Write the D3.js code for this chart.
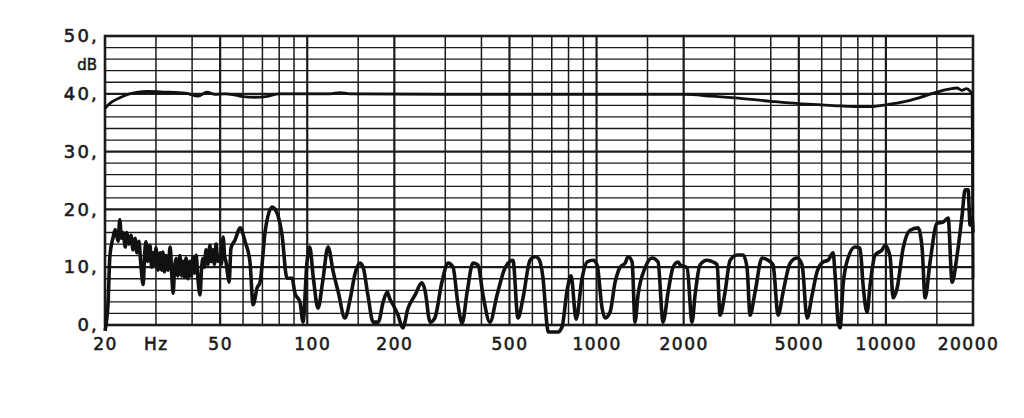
<!DOCTYPE html>
<html><head><meta charset="utf-8">
<script src="https://cdn.jsdelivr.net/npm/d3@7"></script>
<style>body{margin:0;background:#fff}svg{display:block}</style>
</head><body><svg id="c" width="1024" height="418"></svg>
<script>
// ---- data ----
const xTicks = [20, 30, 50, 100, 200, 500, 1000, 2000, 5000, 10000, 20000];
const xTickLabels = ["20", "Hz", "50", "100", "200", "500", "1000", "2000", "5000", "10000", "20000"];
const xGrid = [20,30,40,50,60,70,80,90,100,150,200,300,400,500,600,700,800,900,1000,1500,2000,3000,4000,5000,6000,7000,8000,9000,10000,15000,20000];
const xMajor = [50,100,200,500,1000,2000,5000,10000];
const yTicks = [0, 10, 20, 30, 40, 50];
const yUnit = "dB";

const upperFreq = [20, 21, 22.5, 24, 26, 28, 32, 38, 42, 45, 48, 52, 56, 60, 66, 72, 80, 100, 120, 130, 140, 300, 1000, 2000, 2500, 3000, 4000, 5000, 6000, 7000, 8000, 9000, 10000, 11500, 13000, 15000, 16500, 17600, 18300, 19000, 19500, 19860, 20000];
const upperDb   = [37.5, 38.5, 39.3, 39.9, 40.3, 40.4, 40.3, 40.1, 39.6, 40.3, 39.9, 40.0, 39.8, 39.5, 39.4, 39.5, 40.0, 40.0, 40.0, 40.2, 40.0, 39.9, 39.9, 39.9, 39.6, 39.3, 38.7, 38.3, 38.1, 37.9, 37.8, 37.8, 38.1, 38.6, 39.3, 40.3, 40.8, 41.0, 40.6, 40.9, 40.5, 39.8, 8];

const lowerFreq = [20, 20.5, 20.8, 21.3, 21.7, 22.2, 22.5, 22.8, 23.1, 23.5, 23.8, 24.2, 24.6, 25.0, 25.4, 25.8, 26.2, 26.6, 27.1, 27.4, 27.7, 28.1, 28.6, 29.0, 29.3, 29.7, 30.0, 30.5, 31.0, 31.4, 31.7, 32.1, 32.5, 33.0, 33.6, 34.0, 34.4, 34.8, 35.2, 35.7, 36.3, 36.8, 37.2, 37.7, 38.1, 38.7, 39.3, 39.8, 40.3, 40.8, 41.3, 41.9, 42.6, 43.1, 43.6, 44.1, 44.7, 45.4, 46.1, 46.6, 47.2, 47.8, 48.4, 49.1, 49.9, 50.5, 51.2, 51.8, 52.4, 53.0, 53.7, 54.5, 56.3, 58.6, 61.0, 63.4, 65.0, 67.1, 68.7, 71.5, 75.6, 78.6, 81.8, 85.1, 88.6, 90.7, 94.4, 96.7, 99.8, 102, 105, 109, 113, 118, 123, 128, 135, 141, 146, 152, 156, 162, 169, 176, 183, 189, 193, 198, 206, 214, 223, 236, 249, 255, 266, 276, 292, 307, 319, 332, 343, 357, 374, 389, 405, 428, 453, 483, 514, 535, 557, 589, 613, 630, 653, 674, 680, 736, 760, 791, 816, 850, 891, 927, 973, 1004, 1045, 1070, 1113, 1159, 1206, 1255, 1285, 1327, 1358, 1391, 1471, 1556, 1631, 1697, 1767, 1838, 1913, 1944, 2055, 2138, 2190, 2278, 2410, 2528, 2610, 2672, 2780, 2894, 3060, 3210, 3312, 3392, 3530, 3732, 3916, 4074, 4240, 4412, 4664, 4932, 5132, 5340, 5558, 5782, 6064, 6310, 6568, 6674, 6836, 6946, 7112, 7400, 7824, 8142, 8340, 8608, 8816, 9174, 9702, 9936, 10340, 10590, 10934, 11470, 12124, 12918, 13338, 13662, 14212, 15024, 15764, 16408, 16938, 17626, 18342, 18786, 19236, 19544, 19860, 20000];
const lowerDb   = [-1, 4, 12, 15, 16.5, 14.5, 18.2, 15, 16, 13.5, 16, 14, 15.5, 13, 15, 12.5, 14.5, 10.5, 7, 12, 14.4, 11, 13.8, 10, 12.5, 10.5, 13.3, 9.5, 12.5, 9.5, 12.6, 9.2, 12, 9.5, 13.5, 9, 5.5, 10, 11.5, 8.5, 12, 8.5, 11, 8.3, 11.6, 8, 11, 8.5, 11.8, 9, 12.1, 8, 5.2, 9.5, 11.5, 10, 13, 10.5, 13.8, 11, 13, 10.5, 14, 11, 12, 10.5, 15.2, 12, 10.9, 9, 7.4, 13.3, 14.7, 16.8, 14.4, 10.9, 3.5, 6.4, 7.4, 16.1, 20.4, 19.4, 15.6, 8.1, 8.1, 5.5, 4, 0.5, 10.9, 13.5, 8.1, 2.9, 7.4, 13.5, 9.2, 5.7, 1.2, 4.7, 8.7, 10.7, 10, 5.2, 0.5, 0.5, 4, 5.7, 4.5, 3.5, 1.7, -0.5, 2.9, 5.2, 7.3, 6.1, 0.5, 1.2, 7.4, 10.7, 10, 3.5, 0.3, 5.7, 10.7, 10.4, 5.2, 0.5, 5.2, 9.9, 11.2, 1.2, 4.7, 11.2, 11.8, 11.5, 8.1, 0, -1.2, -1.2, -0.3, 6, 8.5, 1, 8.1, 10.9, 11.2, 10.4, 2.9, 1.2, 2.2, 7.4, 10, 10.7, 11.8, 10.9, 0.5, 5.2, 9.9, 11.6, 10.9, 0.5, 5.7, 10, 10.9, 10.4, 9.9, 0.5, 5.2, 10.4, 11.2, 10.9, 10.4, 1.7, 5.7, 11.2, 12.1, 12.1, 9.9, 1.7, 5.7, 11.6, 11.2, 10.4, 1.7, 5.7, 10.7, 11.6, 10.4, 1.2, 5.2, 9.2, 10.9, 11.2, 12.5, 8.7, 0.5, -0.5, 6.9, 11.6, 13.5, 13.3, 6.9, 2.2, 6.9, 12.1, 13, 13.8, 11.8, 4.7, 6.4, 13.3, 16.4, 16.8, 13.3, 4.7, 10.9, 17.6, 17.8, 18.5, 7.4, 12.1, 19, 23.4, 23.4, 17.3, 18.5, 16];

// ---- chart ----
const W = 1024, H = 418;
const m = {left: 105, right: 51, top: 36, bottom: 93};
const svg = d3.select("#c");
const ink = "#1b1b1b";
const x = d3.scaleLog().domain([20, 20000]).range([m.left, W - m.right]);
const y = d3.scaleLinear().domain([0, 50]).range([H - m.bottom, m.top]);

const g = svg.append("g");
g.selectAll("line.h").data(d3.range(0, 51, 2)).join("line")
  .attr("x1", x(20)).attr("x2", x(20000))
  .attr("y1", d => y(d)).attr("y2", d => y(d))
  .attr("stroke", ink)
  .attr("stroke-width", d => d % 10 === 0 ? 2.2 : 1.3);
g.selectAll("line.v").data(xGrid).join("line")
  .attr("x1", d => x(d)).attr("x2", d => x(d))
  .attr("y1", y(0)).attr("y2", y(50))
  .attr("stroke", ink)
  .attr("stroke-width", d => xMajor.includes(d) ? 2.2 : 1.5);
g.append("rect").attr("x", x(20)).attr("y", y(50))
  .attr("width", x(20000) - x(20)).attr("height", y(0) - y(50))
  .attr("fill", "none").attr("stroke", ink).attr("stroke-width", 2.6);

const fontFam = "'DejaVu Sans', Verdana, sans-serif";
const xa = svg.append("g").attr("transform", `translate(0,${y(0)})`)
  .call(d3.axisBottom(x).tickValues(xTicks).tickFormat((d, i) => xTickLabels[i]).tickSize(0).tickPadding(13));
xa.select(".domain").remove();
xa.selectAll("text").attr("font-family", fontFam).attr("font-size", 17)
  .attr("letter-spacing", "1.5px").attr("fill", ink)
  .attr("stroke", ink).attr("stroke-width", 0.6)
  .attr("dx", d => d === 20000 ? -5 : (d === 100 ? 5 : 0));

const ya = svg.append("g").attr("transform", `translate(${x(20)},0)`)
  .call(d3.axisLeft(y).tickValues(yTicks).tickFormat(d => d + ",").tickSize(0).tickPadding(6));
ya.select(".domain").remove();
ya.selectAll("text").attr("font-family", fontFam).attr("font-size", 18)
  .attr("letter-spacing", "2.2px").attr("fill", ink)
  .attr("stroke", ink).attr("stroke-width", 0.6);

svg.append("text").attr("x", x(20) - 8).attr("y", y(45)).attr("dy", "0.35em")
  .attr("text-anchor", "end").attr("font-family", fontFam).attr("font-size", 15)
  .attr("fill", ink).attr("stroke", ink).attr("stroke-width", 0.5).text(yUnit);

const line = d3.line().x(d => x(d[0])).y(d => y(d[1])).curve(d3.curveMonotoneX);
const upper = upperFreq.map((f, i) => [f, upperDb[i]]);
const lower = lowerFreq.map((f, i) => [f, lowerDb[i]]);
svg.append("path").attr("d", line(upper)).attr("fill", "none")
  .attr("stroke", "#111").attr("stroke-width", 2.8).attr("stroke-linejoin", "round");
svg.append("path").attr("d", line(lower)).attr("fill", "none")
  .attr("stroke", "#111").attr("stroke-width", 3.6).attr("stroke-linejoin", "round");
</script></body></html>
